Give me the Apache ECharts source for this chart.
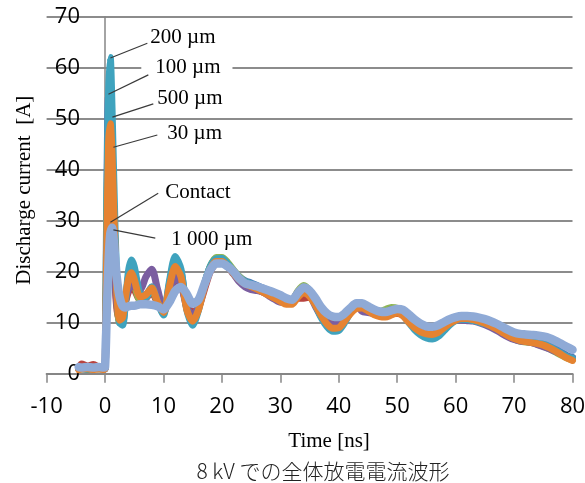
<!DOCTYPE html>
<html>
<head>
<meta charset="utf-8">
<script src="https://cdn.jsdelivr.net/npm/echarts@6/dist/echarts.min.js"></script>
<style>html,body{margin:0;padding:0;background:#fff;}#main{width:585px;height:483px;}</style>
</head>
<body>
<div id="main"></div>
<script>
// time axis [ns]
const T = [-4.5,-4,-3,-2,-1,-0.3, 0,0.3,0.6,0.9,1.2,1.5, 2,2.5,3,3.5,4,4.5,5,
  6,7,8,9,10,11,12,13,14,15,16,17,18,19,20,21,22,23,24,25,26,27,28,29,30,31,32,33,34,35,
  36,37,38,39,40,41,42,43,44,45,46,47,48,49,50,51,52,53,54,55,56,57,58,59,60,61,62,63,64,65,
  66,67,68,69,70,71,72,73,74,75,76,77,78,79,80];

const xTicks = [-10,0,10,20,30,40,50,60,70,80];
const yTicks = [0,10,20,30,40,50,60,70];

// discharge current [A]
const s100 = [0.9,1,0.8,1,1,0.9, 1,35,54.5,52,42,32, 16,10,10,14,19,21,20,
  15.5,15.5,17,14,11.8,17.5,22,20,12.8,10, 12.8,17.5,21,22.5,22.5,21.5,20.2,19,18.2,17.8,
  17.3,16.8,16.2,15.6,15,14.4,14.3,15.8,16.6,15.8, 13.8,11.5,9.8,9.1,9.4,10.7,12.3,13.5,13.6,13,
  12.3,11.9,11.8,12.2,12.6,12,10.7,9.5,8.6,8.1, 8,8.4,9.3,10.2,10.8,11.1,11.1,10.9,10.6,10.2,
  9.7,9.1,8.4,7.7,7.2,6.9,6.7,6.6,6.4,6.1, 5.6,5,4.3,3.6,3.2];
const sContact = [1.2,1.9,1.5,1.8,1.2,1.1, 1,22,36,38,31,22, 13,10.5,11.5,14,16,17,16.5,
  14.5,14.8,16,13.8,12,15,18.5,17.5,13.5,12, 13,16.5,20,21.6,21.8,21,19.8,18.7,17.8,17.2,
  16.6,16,15.6,15.8,15.3,14.2,14,14.8,14.8,15, 13.7,11.8,10.6,10,10.2,11.3,12.5,13.4,13.4,13,
  12.4,11.8,11.7,11.8,11.8,11.6,10.8,10,9.3,8.9, 8.8,9.1,9.7,10.3,10.8,11,11,10.5,10.4,10.1,
  9.7,9.1,8.4,7.7,7.1,6.7,6.5,6.3,6,5.6, 5.1,4.5,3.9,3.3,2.9];
const s500 = [1,1.1,0.9,1,1.1,1, 1,30,46,44,36,27, 14.5,10,11,14.5,17.5,18.5,17.5,
  14.5,15,16.5,14,12.2,16.5,20.5,18.8,13,11, 13,17.5,21,22.8,22.8,21.8,20.3,19,18,17.5,
  17,16.5,15.8,15.1,14.4,13.9,14.2,16.2,17.3,16.2, 13.8,11.5,10,9.5,9.8,11,12.4,13.5,13.4,12.7,
  12.3,12.2,12.6,13,12.8,11.8,10.5,9.4,8.6,8.2, 8.1,8.5,9.3,10.1,10.6,10.8,10.8,10.6,10.3,9.9,
  9.4,8.8,8.1,7.4,6.8,6.4,6.2,6.1,5.8,5.4, 4.9,4.3,3.7,3.1,2.7];
const s50 = [1,1.1,1.4,1,1.2,1, 1,20,33,35,30,23, 14,11,12,14.5,16.5,17.5,17,
  16.5,19,20.5,16.5,12.8,15.5,19,17.5,13,11.5, 13,17,20.5,22,22,21,19.5,18,17,16.5,
  16.3,16,15.3,14.6,14,14,14.3,16,16.6,15.5, 13.2,11.2,10,9.6,10,11.2,12.5,13.6,12.2,12,
  11.8,11.4,11.8,12.6,12.5,11.5,10.5,9.6,9,8.7, 8.7,9,9.7,10.3,10.5,10.5,10.4,10.3,10,9.6,
  9.1,8.5,7.8,7.2,6.7,6.4,6.3,6.1,5.7,5.3, 4.9,4.4,3.9,3.4,3];
const s200 = [1,0.9,1,1.1,0.9,1, 1,30,55,62,52,38, 18,10,9.5,14,20,22.3,21,
  15.5,15,17,14,11.5,18,23,20.5,12.5,9.5, 12.5,17.5,21,22.5,22.6,21.5,20,18.8,18,17.6,
  17.2,16.6,16,15.3,14.6,13.8,13.8,15.5,16.3,15.5, 13.5,11,9.2,8.3,8.5,10,12,13.4,13.6,12.8,
  12,11.5,11.3,11.7,12.2,11.5,10,8.6,7.6,7, 6.8,7.3,8.4,9.6,10.4,10.7,10.6,10.4,10.1,9.8,
  9.4,8.9,8.3,7.7,7.2,6.8,6.5,6.3,6.1,5.8, 5.3,4.7,4,3.4,3];
const s30 = [0.8,0.9,1,0.8,0.9,0.8, 1,25,45,49,43,32, 16,10.5,11,15,18.5,19.8,18.5,
  15,15.5,16.8,14,12,17,21,19,12.5,10.3, 12.5,17,20.5,22,22,21,19.6,18.4,17.6,17.1,
  16.6,16,15.4,14.8,14.2,13.6,13.6,15,15.8,15.2, 13.5,11.4,9.7,8.9,9,10.3,11.8,12.8,12.9,12.3,
  11.6,11.2,11.1,11.5,11.9,11.3,10.1,9,8.2,7.8, 7.7,8.1,9,9.9,10.5,10.8,10.8,10.6,10.3,9.9,
  9.4,8.8,8.1,7.4,6.9,6.5,6.3,6.1,5.9,5.6, 5.1,4.5,3.8,3.1,2.6];
const s1000 = [1.3,1.2,1.3,1.2,1.3,1.2, 1.3,12,22,27.5,28.6,26, 19,15,13.3,13,13.2,13.3,13.3,
  13.6,13.6,13.5,13.2,12.6,14,16.2,17,15.6,13.7, 14.5,17.5,20.3,21.6,21.6,21,20,18.6,17.7,17.4,
  17.1,16.7,16.3,15.9,15.4,14.8,14.5,15.8,16.9,16.3, 14.8,13,11.8,11.2,11.1,11.8,12.9,13.8,13.8,13.2,
  12.6,12.2,12.1,12.4,12.7,12.5,11.6,10.6,9.8,9.3, 9.2,9.5,10.1,10.7,11.1,11.3,11.3,11.2,11,10.7,
  10.3,9.8,9.2,8.6,8.1,7.8,7.7,7.6,7.5,7.3, 7,6.5,5.9,5.3,4.7];

const seriesNames = ['100 µm','Contact','500 µm','50 µm','200 µm','30 µm','1 000 µm'];
const seriesValues = [s100, sContact, s500, s50, s200, s30, s1000];
const seriesColors = ['#4A7CBB','#B8433F','#8DB655','#7B5EA0','#3FA3BE','#E58331','#8FAAD6'];
const seriesWidths = [7,7,7,7,7,7,8.5];

// annotations: label, tip [t, I], leader start [t, I], text left-middle [t, I]
const annLabels = ['200 µm','100 µm','500 µm','30 µm','Contact','1 000 µm'];
const annTips  = [[0.92,61.9],[0.58,54.8],[1.26,50.3],[1.43,44.4],[0.92,29.7],[1.43,28.2]];
const annTails = [[7.24,64.8],[7.41,58.6],[8.26,52.9],[8.95,46.8],[9.1,35.4],[8.6,26.6]];
const annText  = [[7.75,66.0],[8.6,60.0],[8.95,54.0],[10.66,47.1],[10.32,35.6],[11.34,26.4]];

const xName = 'Time [ns]';
const yName = 'Discharge current  [A]';
const subTitle = '8 kV での全体放電電流波形';

const chart = echarts.init(document.getElementById('main'));
const series = seriesValues.map((vals, k) => ({
  name: seriesNames[k],
  type: 'line',
  data: vals.map((v, i) => [T[i], v]),
  showSymbol: false,
  smooth: 0.25,
  silent: true,
  animation: false,
  lineStyle: { color: seriesColors[k], width: seriesWidths[k], cap: 'round', join: 'round' },
  z: 2 + k
}));

chart.setOption({
  animation: false,
  grid: { left: 46.6, right: 12.5, top: 16.7, bottom: 109.3, containLabel: false, outerBoundsMode: 'none' },
  xAxis: {
    type: 'value', min: xTicks[0], max: xTicks[xTicks.length - 1], interval: 10,
    name: xName, nameLocation: 'middle', nameGap: 57,
    nameTextStyle: { fontFamily: 'Liberation Serif', fontSize: 21, color: '#000', padding: [0, 0, 0, 39] },
    axisLine: { show: true, onZero: true, lineStyle: { color: '#868686', width: 2 } },
    axisTick: { show: true, length: 9, lineStyle: { color: '#868686', width: 1.5 } },
    axisLabel: { fontFamily: 'Open Sans', fontSize: 22, color: '#000', margin: 22,
      formatter: v => (xTicks.indexOf(v) >= 0 ? String(v) : '') },
    splitLine: { show: false }
  },
  yAxis: {
    type: 'value', min: yTicks[0], max: yTicks[yTicks.length - 1], interval: 10,
    name: yName, nameLocation: 'middle', nameGap: 12, nameRotate: 90,
    nameTextStyle: { fontFamily: 'Liberation Serif', fontSize: 21, color: '#000', padding: [0, 0, 0, 10] },
    axisLine: { show: true, onZero: true, lineStyle: { color: '#868686', width: 1.5 } },
    axisTick: { show: false },
    axisLabel: { fontFamily: 'Open Sans', fontSize: 22, color: '#000', margin: -33.4 },
    splitLine: { show: true, lineStyle: { color: '#8c8c8c', width: 2 } }
  },
  series: series
});

function placeAnnotations() {
  const els = [];
  const toPx = p => chart.convertToPixel({ xAxisIndex: 0, yAxisIndex: 0 }, p);
  annLabels.forEach((lab, i) => {
    const tip = toPx(annTips[i]);
    const tail = toPx(annTails[i]);
    const tp = toPx(annText[i]);
    els.push({
      type: 'text', x: tp[0] - 14, y: tp[1], z: 100,
      style: { text: lab, font: '21px "Liberation Serif"', fill: '#000',
        verticalAlign: 'middle', align: 'left', backgroundColor: '#fff', padding: [1, 12, 1, 14] }
    });
    els.push({
      type: 'line', z: 110,
      shape: { x1: tail[0], y1: tail[1], x2: tip[0], y2: tip[1] },
      style: { stroke: '#3a3a3a', lineWidth: 1.2 }
    });
  });
  els.push({
    type: 'text', x: 323, y: 471, z: 100,
    style: { text: subTitle, font: '300 21px "Noto Sans CJK JP"', fill: '#222',
      align: 'center', verticalAlign: 'middle' }
  });
  chart.setOption({ graphic: els });
}
placeAnnotations();
</script>
</body>
</html>
